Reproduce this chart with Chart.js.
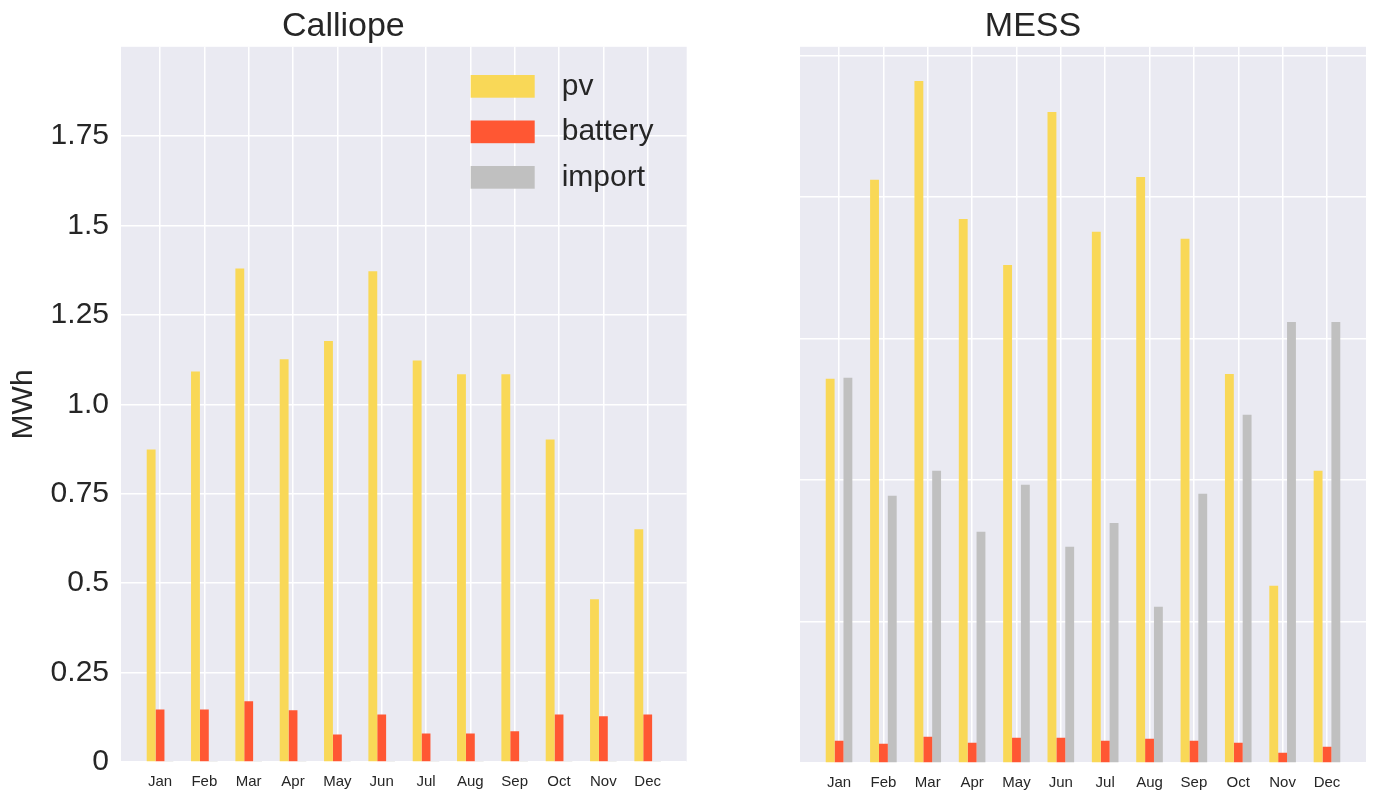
<!DOCTYPE html>
<html><head><meta charset="utf-8">
<script src="https://cdn.jsdelivr.net/npm/chart.js@4.4.1/dist/chart.umd.min.js"></script>
<style>
html,body{margin:0;padding:0;background:#fff;width:1373px;height:792px;overflow:hidden}
#left{position:absolute;left:0;top:0;width:700px;height:792px}
#right{position:absolute;left:700px;top:0;width:673px;height:792px}
</style></head><body>
<div id="left"><canvas id="c1"></canvas></div>
<div id="right"><canvas id="c2"></canvas></div>
<script>
const months = ['Jan','Feb','Mar','Apr','May','Jun','Jul','Aug','Sep','Oct','Nov','Dec'];
const seriesNames = ['pv','battery','import'];
const seriesColors = ['#F9D857','#FF5733','#C0C0C0'];

// Calliope (MWh)
const calliopePv      = [0.874, 1.092, 1.380, 1.126, 1.177, 1.372, 1.123, 1.084, 1.084, 0.902, 0.455, 0.651];
const calliopeBattery = [0.147, 0.147, 0.170, 0.145, 0.077, 0.133, 0.080, 0.080, 0.086, 0.133, 0.128, 0.133];
const calliopeImport  = [0.003, 0.003, 0.003, 0.003, 0.003, 0.003, 0.003, 0.003, 0.003, 0.003, 0.003, 0.003];
const calliopeTicks = [0, 0.25, 0.5, 0.75, 1.0, 1.25, 1.5, 1.75];
const calliopeTickLabels = ['0','0.25','0.5','0.75','1.0','1.25','1.5','1.75'];

// MESS (unlabelled axis, values in grid units)
const messPv      = [2.714, 4.120, 4.819, 3.844, 3.519, 4.600, 3.753, 4.141, 3.703, 2.749, 1.252, 2.064];
const messBattery = [0.157, 0.136, 0.186, 0.143, 0.179, 0.179, 0.157, 0.172, 0.157, 0.143, 0.073, 0.115];
const messImport  = [2.721, 1.888, 2.064, 1.633, 1.965, 1.528, 1.695, 1.104, 1.902, 2.460, 3.116, 3.116];
const messTicks = [0, 1, 2, 3, 4, 5];

const FONT = '"Liberation Sans", Arial, sans-serif';
const TEXT = '#262626';
Chart.defaults.font.family = FONT;
Chart.defaults.color = TEXT;

const bgPlugin = {
  id: 'plotBg',
  beforeDraw(chart) {
    const {ctx, chartArea: a} = chart;
    ctx.save();
    ctx.fillStyle = '#EAEAF2';
    ctx.fillRect(a.left, a.top, a.right - a.left, a.bottom - a.top);
    ctx.restore();
  }
};

const innerLegend = {
  id: 'innerLegend',
  afterDraw(chart) {
    const {ctx, chartArea: a} = chart;
    ctx.save();
    ctx.font = '30px ' + FONT;
    ctx.textBaseline = 'middle';
    ctx.textAlign = 'left';
    chart.data.datasets.forEach((ds, i) => {
      const cy = a.top + 39.5 + i * 45.5;
      const x0 = a.right - 216;
      ctx.fillStyle = ds.backgroundColor;
      ctx.fillRect(x0, cy - 11.3, 64, 22.7);
      ctx.fillStyle = TEXT;
      ctx.fillText(ds.label, x0 + 91, cy);
    });
    ctx.restore();
  }
};

function makeDatasets(arrays) {
  return arrays.map((arr, k) => ({
    label: seriesNames[k],
    data: arr.map((v, i) => ({x: i, y: v})),
    backgroundColor: seriesColors[k],
    borderWidth: 0,
    categoryPercentage: 0.6,
    barPercentage: 1.0
  }));
}

function xScale() {
  return {
    type: 'linear',
    offset: false,
    min: -0.88,
    max: 11.88,
    afterBuildTicks: s => { s.ticks = months.map((m, i) => ({value: i})); },
    afterFit: s => { s.height = 29; },
    ticks: { callback: v => months[v], font: {size: 15}, color: TEXT, padding: 11, autoSkip: false, maxRotation: 0 },
    grid: { color: '#ffffff', lineWidth: 1.5, drawTicks: false, offset: false },
    border: { display: false }
  };
}

new Chart(document.getElementById('c1'), {
  type: 'bar',
  data: { datasets: makeDatasets([calliopePv, calliopeBattery, calliopeImport]) },
  options: {
    responsive: true, maintainAspectRatio: false, animation: false,
    layout: { padding: { left: 0, right: 13.3, top: 0, bottom: 0 } },
    plugins: {
      legend: { display: false },
      tooltip: { enabled: false },
      title: { display: true, text: 'Calliope', font: {size: 34, weight: 'normal'}, color: TEXT, padding: {top: 6, bottom: 0} }
    },
    scales: {
      x: xScale(),
      y: {
        min: 0, max: 2.0,
        afterBuildTicks: s => { s.ticks = calliopeTicks.map(v => ({value: v})); },
        afterFit: s => { s.width = 121; },
        ticks: { callback: (v, i) => calliopeTickLabels[i], font: {size: 30}, color: TEXT, padding: 12 },
        grid: { color: '#ffffff', lineWidth: 1.5, drawTicks: false },
        border: { display: false },
        title: { display: true, text: 'MWh', font: {size: 30}, color: TEXT, padding: {top: 6, bottom: 0} }
      }
    }
  },
  plugins: [bgPlugin, innerLegend]
});

new Chart(document.getElementById('c2'), {
  type: 'bar',
  data: { datasets: makeDatasets([messPv, messBattery, messImport]) },
  options: {
    responsive: true, maintainAspectRatio: false, animation: false,
    layout: { padding: { left: 0, right: 7, top: 0, bottom: 0 } },
    plugins: {
      legend: { display: false },
      tooltip: { enabled: false },
      title: { display: true, text: 'MESS', font: {size: 34, weight: 'normal'}, color: TEXT, padding: {top: 6, bottom: 0} }
    },
    scales: {
      x: xScale(),
      y: {
        min: 0, max: 5.06,
        afterBuildTicks: s => { s.ticks = messTicks.map(v => ({value: v})); },
        afterFit: s => { s.width = 100; },
        ticks: { display: false },
        grid: { color: '#ffffff', lineWidth: 1.5, drawTicks: false },
        border: { display: false }
      }
    }
  },
  plugins: [bgPlugin]
});
</script>
</body></html>
